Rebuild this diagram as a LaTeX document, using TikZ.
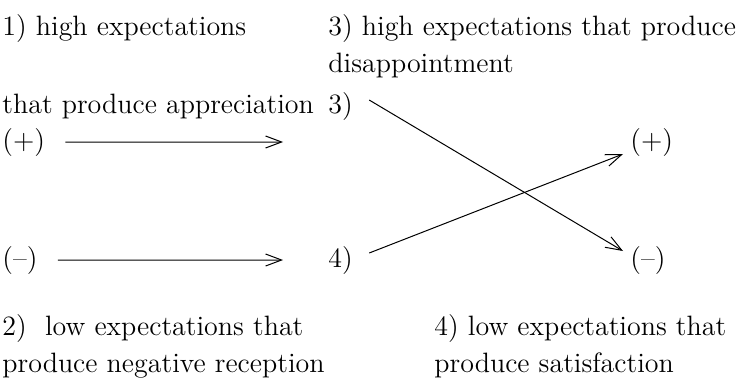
\documentclass[tikz,border=0pt]{standalone}
\usetikzlibrary{arrows.meta}

\begin{document}
\begin{tikzpicture}[
      x=0.5pt,y=-0.5pt,
      every node/.style={inner sep=0pt,anchor=base west,font=\fontsize{14}{18}\selectfont},
      >={Straight Barb[length=8pt,width=6pt]},
      link/.style={->,line width=0.5pt}
    ]
      \useasboundingbox (0,0) rectangle (747,385);
      % left column
      \node (high1) at (2,36) {1) high expectations};
      \node (high1b) at (2,113) {that produce appreciation};
      \node (plusL) at (2,149) {(+)};
      \node (minusL) at (2,267) {(--)};
      \node (low2) at (2,335) {2)\ \ low expectations that};
      \node (low2b) at (2,372) {produce negative reception};
      % right column
      \node (high3) at (328,36) {3) high expectations that produce};
      \node (high3b) at (328,73) {disappointment};
      \node (three) at (328,113) {3)};
      \node (four) at (328,267) {4)};
      \node (plusR) at (630,149) {(+)};
      \node (minusR) at (630,267) {(--)};
      \node (low4) at (434,335) {4) low expectations that};
      \node (low4b) at (434,372) {produce satisfaction};
      \coordinate (endplus) at (283,142);
      \coordinate (endminus) at (283,260);
      \draw[link] ([xshift=10pt]plusL.east) -- (endplus);
      \draw[link] ([xshift=10pt]minusL.east) -- (endminus);
      \draw[link] ([shift={(16,-6)}]three.east) -- ([shift={(-7,-9)}]minusR.west);
      \draw[link] ([shift={(16,-7)}]four.east) -- ([shift={(-7,12)}]plusR.west);
    \end{tikzpicture}
\end{document}
